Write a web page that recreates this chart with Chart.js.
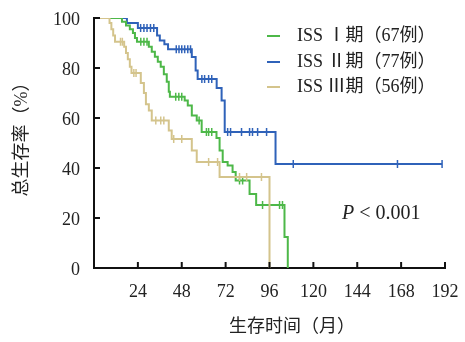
<!DOCTYPE html>
<html>
<head>
<meta charset="utf-8">
<script src="https://cdn.jsdelivr.net/npm/chart.js@4/dist/chart.umd.min.js"></script>
<style>
  body { margin: 0; background: #fff; }
  canvas { display: block; }
</style>
</head>
<body>
<canvas id="grafico" width="465" height="342"></canvas>
<script>
// ---- dados (meses, sobrevida %) ----
const xTicks = [24, 48, 72, 96, 120, 144, 168, 192];
const yTicks = [0, 20, 40, 60, 80, 100];

const legendas = ["ISS Ⅰ期（67例）", "ISS Ⅱ期（77例）", "ISS Ⅲ期（56例）"];
const cores = ["#4db848", "#2f62b9", "#d4c48c"];

// ISS I
const tempoI = [0, 15.3, 17.5, 19.6, 21.3, 22.4, 23.5, 30, 31.6, 33.3, 34.9, 36.5, 38.2, 39.8, 40.9, 41.5, 49.6, 51.3, 53.5, 56.2, 58.9, 67, 68.7, 70.4, 73.1, 75.8, 77.5, 85.1, 88.7, 104.2, 106];
const sobrevI = [100, 98.5, 97, 95.5, 94, 92, 90.5, 88.5, 86.5, 84.5, 82.5, 80.5, 77.5, 74.5, 70.5, 68.5, 67, 65, 61, 59, 54.4, 52, 47, 42.4, 41, 38.4, 35, 29.6, 25.2, 12.4, 0];
const censuraI = [25.6, 27.3, 29, 44.7, 46.4, 48, 57.5, 61.5, 62.7, 64.4, 79.6, 81.3, 92.2, 101.5, 103.1];

// ISS II
const tempoII = [0, 18, 24, 34.5, 36, 38.5, 40.5, 53.5, 55.6, 56.7, 67.1, 69.8, 71.5, 99.3, 190.4];
const sobrevII = [100, 98, 96, 93, 91, 89.5, 87.5, 84.4, 79, 75.6, 72, 67, 54.4, 41.6, 41.6];
const censuraII = [25.5, 27.3, 29, 30.9, 32.7, 45, 46.5, 48, 49.6, 51.3, 52.8, 59, 60.5, 62.7, 64.4, 73.1, 74.7, 80.7, 85.1, 86.7, 89.5, 94.4, 109, 166, 190.4];

// ISS III
const tempoIII = [0, 8.5, 9.5, 10.5, 11.5, 16.5, 17.5, 18.5, 19.6, 20.5, 25.6, 27.3, 28.4, 30, 31.6, 40.9, 42.5, 53.5, 56.2, 68.7, 96];
const sobrevIII = [100, 98, 95.5, 93, 90.5, 88.5, 86, 83.5, 80.5, 78, 74, 70, 65.5, 63, 59, 55, 51.6, 47, 42.4, 36.4, 0];
const censuraIII = [14.5, 15.5, 21.8, 23, 33.8, 36.5, 38.2, 43.6, 48, 62.7, 67.6, 79.6, 83.5, 91.6];

const fonteSerif = "'Liberation Serif', 'Times New Roman', 'Noto Sans CJK SC', serif";
const fonteCJK = "'Liberation Serif', 'Noto Sans CJK SC', sans-serif";

function sobrevEm(tempos, valores, t) {
  let s = valores[0];
  for (let i = 0; i < tempos.length; i++) {
    if (tempos[i] <= t) s = valores[i];
  }
  return s;
}

function curva(tempos, valores, cor) {
  return {
    type: "line",
    data: tempos.map((t, i) => ({ x: t, y: valores[i] })),
    borderColor: cor,
    borderWidth: 2,
    stepped: "before",
    pointRadius: 0,
    fill: false,
  };
}

function censuras(tempos, valores, marcas, cor) {
  return {
    type: "scatter",
    data: marcas.map((t) => ({ x: t, y: sobrevEm(tempos, valores, t) })),
    borderColor: cor,
    backgroundColor: cor,
    pointStyle: "line",
    rotation: 90,
    pointRadius: 4,
    borderWidth: 1.5,
  };
}

// ticks para dentro, rotulos, titulos, legenda e P
const extras = {
  id: "extras",
  afterDraw(chart) {
    const ctx = chart.ctx;
    const sx = chart.scales.x;
    const sy = chart.scales.y;
    const area = chart.chartArea;
    ctx.save();
    ctx.strokeStyle = "#111";
    ctx.lineWidth = 2;
    ctx.fillStyle = "#222";
    ctx.font = "18px " + fonteSerif;
    ctx.textBaseline = "middle";

    ctx.textAlign = "center";
    xTicks.forEach((v) => {
      const px = sx.getPixelForValue(v);
      ctx.beginPath();
      ctx.moveTo(px, area.bottom);
      ctx.lineTo(px, area.bottom - 6);
      ctx.stroke();
      ctx.fillText(String(v), px, area.bottom + 24);
    });

    ctx.textAlign = "right";
    yTicks.forEach((v) => {
      const py = sy.getPixelForValue(v);
      if (v > 0) {
        ctx.beginPath();
        ctx.moveTo(area.left, py);
        ctx.lineTo(area.left + 6, py);
        ctx.stroke();
      }
      ctx.fillText(String(v), area.left - 14, py + 2);
    });

    ctx.font = "18px " + fonteCJK;
    ctx.textAlign = "center";
    ctx.fillText("生存时间（月）", 292, 327);

    ctx.save();
    ctx.translate(22, 135);
    ctx.rotate(-Math.PI / 2);
    ctx.fillText("总生存率（%）", 0, 0);
    ctx.restore();

    // legenda
    const ys = [36, 62, 87];
    ctx.textAlign = "left";
    legendas.forEach((txt, i) => {
      ctx.strokeStyle = cores[i];
      ctx.lineWidth = 2;
      ctx.beginPath();
      ctx.moveTo(267, ys[i]);
      ctx.lineTo(280, ys[i]);
      ctx.stroke();
      ctx.fillStyle = "#222";
      ctx.fillText(txt, 297, ys[i]);
    });

    // P valor
    ctx.font = "italic 20px " + fonteSerif;
    ctx.fillText("P", 342, 214);
    const wP = ctx.measureText("P ").width;
    ctx.font = "20px " + fonteSerif;
    ctx.fillText("< 0.001", 342 + wP, 214);
    ctx.restore();
  },
};

new Chart(document.getElementById("grafico"), {
  data: {
    datasets: [
      curva(tempoIII, sobrevIII, cores[2]),
      censuras(tempoIII, sobrevIII, censuraIII, cores[2]),
      curva(tempoI, sobrevI, cores[0]),
      censuras(tempoI, sobrevI, censuraI, cores[0]),
      curva(tempoII, sobrevII, cores[1]),
      censuras(tempoII, sobrevII, censuraII, cores[1]),
    ],
  },
  options: {
    responsive: false,
    animation: false,
    devicePixelRatio: 1,
    layout: { padding: { top: 18, right: 20, left: 0, bottom: 0 } },
    plugins: { legend: { display: false }, tooltip: { enabled: false } },
    scales: {
      x: {
        type: "linear",
        min: 0,
        max: 192,
        afterFit: (s) => { s.height = 74; },
        ticks: { display: false },
        grid: { display: false, drawTicks: false },
        border: { display: true, color: "#111", width: 2 },
      },
      y: {
        type: "linear",
        min: 0,
        max: 100,
        afterFit: (s) => { s.width = 94; },
        ticks: { display: false },
        grid: { display: false, drawTicks: false },
        border: { display: true, color: "#111", width: 2 },
      },
    },
  },
  plugins: [extras],
});
</script>
</body>
</html>
